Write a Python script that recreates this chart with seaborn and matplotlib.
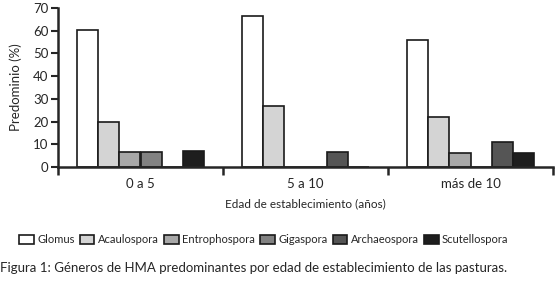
import numpy as np
import pandas as pd
import matplotlib
matplotlib.use("Agg")
import matplotlib.pyplot as plt
import seaborn as sns

edades = ["0 a 5", "5 a 10", "más de 10"]
generos = ["Glomus", "Acaulospora", "Entrophospora", "Gigaspora", "Archaeospora", "Scutellospora"]
glomus = [60.5, 66.5, 55.8]
acaulospora = [20.0, 27.0, 22.0]
entrophospora = [6.7, 0.0, 6.0]
gigaspora = [6.7, 0.0, 0.0]
archaeospora = [0.0, 6.8, 11.0]
scutellospora = [7.0, 0.0, 6.0]
colores = ["#ffffff", "#d4d4d4", "#a8a8a8", "#828282", "#555555", "#1e1e1e"]

series = [glomus, acaulospora, entrophospora, gigaspora, archaeospora, scutellospora]
df = pd.DataFrame(
    [(e, g, v[i]) for g, v in zip(generos, series) for i, e in enumerate(edades)],
    columns=["edad", "genero", "predominio"],
)

sns.set_style("ticks")
plt.rcParams["font.family"] = ["Lato", "DejaVu Sans"]

fig = plt.figure(figsize=(5.58, 2.82), dpi=100)
ax = fig.add_axes([58 / 558, 115 / 282, 495 / 558, 159 / 282])

sns.barplot(data=df, x="edad", y="predominio", hue="genero", order=edades,
            hue_order=generos, palette=colores, width=0.77, edgecolor="#1a1a1a",
            linewidth=1.2, saturation=1, ax=ax)

ax.set_ylim(0, 70)
ax.set_xlim(-0.5, 2.5)
ax.set_yticks(np.arange(0, 71, 10))
ax.set_xticks([-0.5, 0.5, 1.5, 2.5])
ax.set_xticklabels([])
ax.set_xticks([0, 1, 2], minor=True)
ax.set_xticklabels(edades, minor=True)
ax.tick_params(axis="x", which="minor", length=0, pad=8, labelsize=9.5)
ax.tick_params(axis="x", which="major", length=6, width=1.8, direction="out")
ax.tick_params(axis="y", length=5, width=1.5, labelsize=9.5, pad=2)
for s in ["left", "bottom"]:
    ax.spines[s].set_linewidth(1.8)
sns.despine(ax=ax)

ax.set_xlabel("Edad de establecimiento (años)", fontsize=8.5, labelpad=6)
ax.set_ylabel("Predominio (%)", fontsize=9.5, labelpad=8)

ax.legend_.remove()
handles, labels = ax.get_legend_handles_labels()
fig.legend(handles, labels, loc="center", bbox_to_anchor=(0.473, 0.149), ncol=6,
           frameon=False, fontsize=8, handlelength=1.3, handleheight=0.8,
           handletextpad=0.3, columnspacing=0.5)

fig.text(0.0, 0.05, "Figura 1: Géneros de HMA predominantes por edad de establecimiento de las pasturas.",
         fontsize=9.5, va="center", ha="left")

fig.savefig("out.png", dpi=100)
